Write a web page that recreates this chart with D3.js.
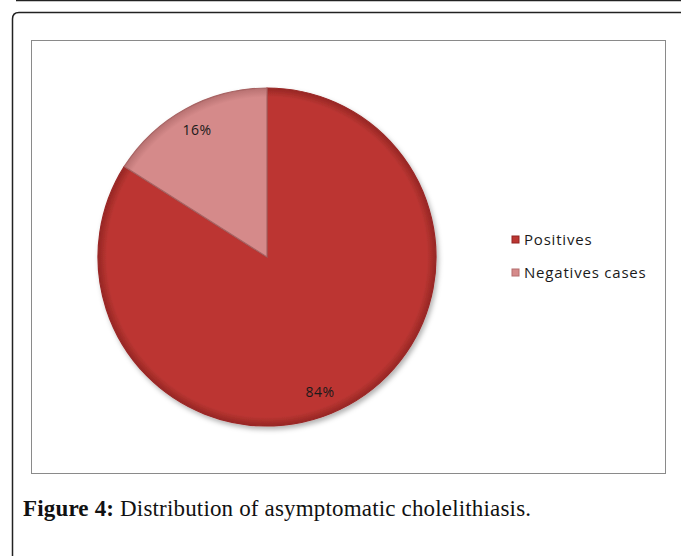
<!DOCTYPE html>
<html>
<head>
<meta charset="utf-8">
<script src="https://cdn.jsdelivr.net/npm/d3@7"></script>
<style>
html,body{margin:0;padding:0;background:#fff;}
svg{display:block;}
</style>
</head>
<body>
<svg id="chart" width="681" height="556"></svg>
<script>
const categories = ["Positives", "Negatives cases"];
const values = [84, 16];
const labels = ["84%", "16%"];
const caption = ["Figure 4:", " Distribution of asymptomatic cholelithiasis."];

const svg = d3.select("#chart");
const defs = svg.append("defs");

// page frame
svg.append("line").attr("x1",16).attr("x2",681).attr("y1",0.5).attr("y2",0.5)
  .attr("stroke","#222").attr("stroke-width",1.5);
svg.append("path")
  .attr("d","M12.5,556 L12.5,19 Q12.5,12.5 19,12.5 L681,12.5")
  .attr("fill","none").attr("stroke","#222").attr("stroke-width",1.5);

// chart frame
svg.append("rect").attr("x",31.5).attr("y",40.5).attr("width",634).attr("height",433)
  .attr("fill","#fff").attr("stroke","#8a8a8a").attr("stroke-width",1);

const colors = ["#bc3632","#d58a8a"];
const edge = ["#922523","#b46e6e"];
colors.forEach((c,i)=>{
  const g = defs.append("radialGradient").attr("id","g"+i)
    .attr("gradientUnits","userSpaceOnUse").attr("cx",0).attr("cy",0).attr("r",170);
  g.append("stop").attr("offset","0%").attr("stop-color",c);
  g.append("stop").attr("offset","94%").attr("stop-color",c);
  g.append("stop").attr("offset","100%").attr("stop-color",edge[i]);
});
const f = defs.append("filter").attr("id","sh").attr("x","-20%").attr("y","-20%").attr("width","140%").attr("height","140%");
f.append("feDropShadow").attr("dx",2).attr("dy",3).attr("stdDeviation",2.5).attr("flood-color","#000").attr("flood-opacity",0.3);

const cx = 267, cy = 257, R = 169;
const pie = d3.pie().sort(null).value(d=>d)
  .startAngle(0).endAngle(2*Math.PI);
const arcs = pie(values);
const arc = d3.arc().innerRadius(0).outerRadius(R);
const g = svg.append("g").attr("transform",`translate(${cx},${cy})`);
g.append("g").attr("filter","url(#sh)").selectAll("path").data(arcs).join("path")
  .attr("d",arc).attr("fill",(d,i)=>`url(#g${i})`)
  .attr("stroke",(d,i)=>i===0?"#9a2826":"#a86464").attr("stroke-width",1.2);

const labelArc = d3.arc().innerRadius(R*0.86).outerRadius(R*0.86);
const shift = [[-17,8],[0,0]];
g.selectAll("text.lab").data(arcs).join("text").attr("class","lab")
  .attr("x",(d,i)=>labelArc.centroid(d)[0]+shift[i][0])
  .attr("y",(d,i)=>labelArc.centroid(d)[1]+5+shift[i][1])
  .attr("text-anchor","middle")
  .attr("font-family","Open Sans, Liberation Sans, sans-serif").attr("font-size",14)
  .attr("letter-spacing",0.5)
  .attr("fill","#1a1a1a").text((d,i)=>labels[i]);

// legend
const leg = svg.append("g");
const ly = d3.scalePoint().domain(categories).range([236,269]);
categories.forEach((c,i)=>{
  leg.append("rect").attr("x",512).attr("y",ly(c)).attr("width",7).attr("height",7)
    .attr("fill",colors[i]).attr("stroke",edge[i]).attr("stroke-width",1);
  leg.append("text").attr("x",524).attr("y",ly(c)+9)
    .attr("font-family","Open Sans, Liberation Sans, sans-serif").attr("font-size",15)
    .attr("letter-spacing",0.8)
    .attr("fill","#1a1a1a").text(c);
});

// caption
const t = svg.append("text").attr("x",23).attr("y",516)
  .attr("font-family","Liberation Serif, DejaVu Serif, serif").attr("font-size",23).attr("fill","#111")
  .attr("textLength",508).attr("lengthAdjust","spacing");
t.append("tspan").attr("font-weight","bold").text(caption[0]);
t.append("tspan").text(caption[1]);
</script>
</body>
</html>
